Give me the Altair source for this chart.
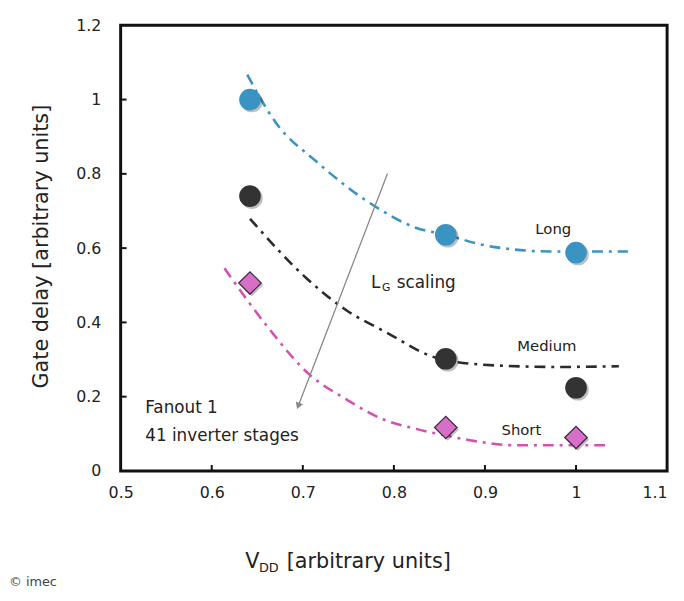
import altair as alt
import pandas as pd

# --- measured points ---
pt_series = ["Long", "Long", "Long", "Medium", "Medium", "Medium", "Short", "Short", "Short"]
pt_vdd = [0.642, 0.857, 1.0, 0.642, 0.857, 1.0, 0.642, 0.857, 1.0]
pt_delay = [1.0, 0.636, 0.588, 0.74, 0.302, 0.224, 0.506, 0.117, 0.09]

# --- fitted (dash-dot) curves ---
long_x = [0.639, 0.670, 0.715, 0.777, 0.824, 0.857, 0.897, 0.933, 0.970, 1.0, 1.057]
long_y = [1.067, 0.939, 0.833, 0.716, 0.655, 0.636, 0.609, 0.596, 0.591, 0.591, 0.591]
med_x = [0.642, 0.704, 0.747, 0.794, 0.836, 0.856, 0.922, 0.980, 1.047]
med_y = [0.679, 0.519, 0.434, 0.370, 0.314, 0.298, 0.283, 0.280, 0.282]
short_x = [0.614, 0.639, 0.661, 0.708, 0.747, 0.786, 0.823, 0.856, 0.885, 0.933, 1.035]
short_y = [0.546, 0.460, 0.389, 0.258, 0.194, 0.141, 0.114, 0.096, 0.082, 0.069, 0.069]

x_ticks = [0.5, 0.6, 0.7, 0.8, 0.9, 1.0, 1.1]
y_ticks = [0, 0.2, 0.4, 0.6, 0.8, 1.0, 1.2]

# series labels
lab_text = ["Long", "Medium", "Short"]
lab_x = [0.975, 0.968, 0.94]
lab_y = [0.652, 0.335, 0.109]

# arrow (L_G scaling)
arrow_x = [0.793, 0.695]
arrow_y = [0.801, 0.175]

colors = {"Long": "#3a93c3", "Medium": "#333333", "Short": "#d56fc8"}
line_colors = {"Long": "#3a93c3", "Medium": "#2b2b2b", "Short": "#d150b4"}

FONT = "DejaVu Sans"

xs = alt.Scale(domain=[0.5, 1.1], nice=False, zero=False)
ys = alt.Scale(domain=[0, 1.2], nice=False)

pts = pd.DataFrame({"series": pt_series, "vdd": pt_vdd, "delay": pt_delay})
curves = pd.concat([
    pd.DataFrame({"series": "Long", "vdd": long_x, "delay": long_y, "o": range(len(long_x))}),
    pd.DataFrame({"series": "Medium", "vdd": med_x, "delay": med_y, "o": range(len(med_x))}),
    pd.DataFrame({"series": "Short", "vdd": short_x, "delay": short_y, "o": range(len(short_x))}),
])

X = alt.X("vdd:Q", scale=xs, axis=alt.Axis(
    values=x_ticks, title=None, domain=False, ticks=False, grid=False,
    labelFontSize=16, labelFont=FONT, labelColor="#222", labelPadding=14, labelFlush=False,
    labelAlign=alt.ConditionalAxisLabelAlign(condition={"test": "datum.value > 1.05", "value": "right"},
                                             value="center"),
    labelExpr="datum.value == 1 ? '1' : format(datum.value, '.1f')"))
Y = alt.Y("delay:Q", scale=ys, axis=alt.Axis(
    values=y_ticks, title=None, domain=False, ticks=False, grid=False,
    labelFontSize=16, labelFont=FONT, labelColor="#222", labelPadding=20, labelFlush=False,
    labelExpr="datum.value == 1 ? '1' : datum.value == 0 ? '0' : format(datum.value, '.1f')"))

layers = []
for s in ["Long", "Medium", "Short"]:
    d = curves[curves.series == s]
    layers.append(alt.Chart(d).mark_line(color=line_colors[s], strokeWidth=2.6,
                                         strokeDash=[11, 6, 3, 6], interpolate="monotone").encode(
        x=X, y=Y, order="o:Q"))

# shadows
circ = pts[pts.series != "Short"]
dia = pts[pts.series == "Short"]
layers.append(alt.Chart(circ).mark_point(shape="circle", filled=True, size=480, color="#000",
                                         opacity=0.25, xOffset=2, yOffset=2).encode(x=X, y=Y))
layers.append(alt.Chart(dia).mark_point(shape="diamond", filled=True, size=520, color="#000",
                                        opacity=0.25, xOffset=2, yOffset=2).encode(x=X, y=Y))
layers.append(alt.Chart(circ).mark_point(shape="circle", filled=True, size=480, opacity=1).encode(
    x=X, y=Y,
    color=alt.Color("series:N", scale=alt.Scale(domain=["Long", "Medium"],
                                                 range=[colors["Long"], colors["Medium"]]), legend=None)))
layers.append(alt.Chart(dia).mark_point(shape="diamond", filled=True, size=520, opacity=1,
                                        color=colors["Short"], stroke="#3a2a3a", strokeWidth=1.2).encode(
    x=X, y=Y))

# inward ticks
xt = pd.DataFrame({"v": x_ticks[1:-1]})
yt = pd.DataFrame({"v": y_ticks[1:-1]})
layers.append(alt.Chart(xt).mark_rule(color="#111", strokeWidth=2).encode(
    x=alt.X("v:Q", scale=xs), y=alt.value(451), y2=alt.value(445)))
layers.append(alt.Chart(yt).mark_rule(color="#111", strokeWidth=2).encode(
    y=alt.Y("v:Q", scale=ys), x=alt.value(0), x2=alt.value(6)))

# series labels
labs = pd.DataFrame({"t": lab_text, "x": lab_x, "y": lab_y})
layers.append(alt.Chart(labs).mark_text(font=FONT, fontSize=15, color="#222").encode(
    x=alt.X("x:Q", scale=xs), y=alt.Y("y:Q", scale=ys), text="t:N"))

# arrow
arr = pd.DataFrame({"x": [arrow_x[0]], "y": [arrow_y[0]], "x2": [arrow_x[1]], "y2": [arrow_y[1]]})
layers.append(alt.Chart(arr).mark_rule(color="#888", strokeWidth=1.3).encode(
    x=alt.X("x:Q", scale=xs), y=alt.Y("y:Q", scale=ys), x2="x2:Q", y2="y2:Q"))
head = pd.DataFrame({"x": [arrow_x[1]], "y": [arrow_y[1]]})
layers.append(alt.Chart(head).mark_point(shape="triangle-up", filled=True, color="#888", size=60,
                                         angle=200, opacity=1).encode(
    x=alt.X("x:Q", scale=xs), y=alt.Y("y:Q", scale=ys)))

# annotation texts
ann = pd.DataFrame({"t": ["L", "G", "scaling", "Fanout 1", "41 inverter stages"],
                    "x": [0.775, 0.775, 0.775, 0.527, 0.527],
                    "y": [0.506, 0.506, 0.506, 0.168, 0.094],
                    "dx": [0, 11, 26, 0, 0],
                    "dy": [0, 5, 0, 0, 0],
                    "fs": [17, 11, 17, 17, 17]})
for i, r in ann.iterrows():
    layers.append(alt.Chart(ann.iloc[[i]]).mark_text(font=FONT, fontSize=int(r.fs), color="#222",
                                                     align="left", dx=int(r.dx), dy=int(r.dy)).encode(
        x=alt.X("x:Q", scale=xs), y=alt.Y("y:Q", scale=ys), text="t:N"))

# axis titles (with subscript)
layers.append(alt.Chart(pd.DataFrame({"t": ["Gate delay [arbitrary units]"]})).mark_text(
    font=FONT, fontSize=21, color="#222", angle=270).encode(
    x=alt.value(-80), y=alt.value(224), text="t:N"))
layers.append(alt.Chart(pd.DataFrame({"t": ["V"]})).mark_text(
    font=FONT, fontSize=21, color="#222", align="left").encode(
    x=alt.value(126), y=alt.value(543), text="t:N"))
layers.append(alt.Chart(pd.DataFrame({"t": ["DD"]})).mark_text(
    font=FONT, fontSize=13, color="#222", align="left").encode(
    x=alt.value(140), y=alt.value(549), text="t:N"))
layers.append(alt.Chart(pd.DataFrame({"t": ["[arbitrary units]"]})).mark_text(
    font=FONT, fontSize=21, color="#222", align="left").encode(
    x=alt.value(168), y=alt.value(543), text="t:N"))
layers.append(alt.Chart(pd.DataFrame({"t": ["© imec"]})).mark_text(
    font=FONT, fontSize=13, color="#444", align="left").encode(
    x=alt.value(-113), y=alt.value(563), text="t:N"))

chart = alt.layer(*layers).properties(
    width=553, height=451,
    background="white",
    autosize=alt.AutoSizeParams(type="none"),
    padding={"left": 114, "top": 14, "right": 9, "bottom": 118},
).configure_view(stroke="#111", strokeWidth=3)

chart.save("out.html", embed_options={"renderer": "svg", "actions": False})
